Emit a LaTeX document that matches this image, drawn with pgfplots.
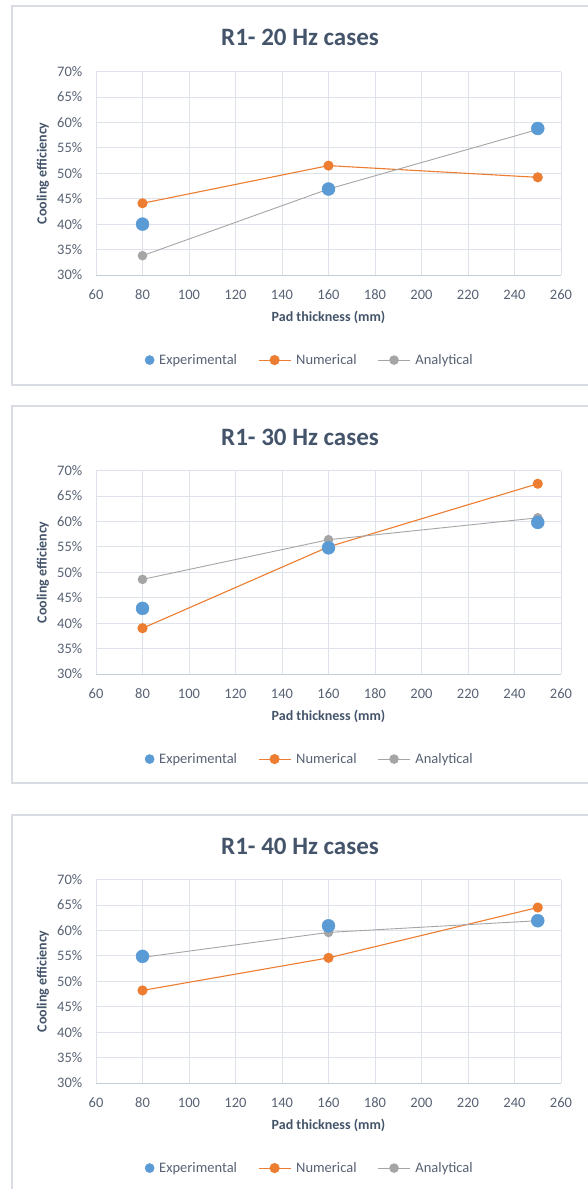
\documentclass[border=0pt]{standalone}
\usepackage{pgfplots}
\pgfplotsset{compat=1.18}
\usepackage{pgfplotstable}
\usepackage{fontspec}
\setmainfont{Carlito}
\definecolor{cblue}{HTML}{5B9BD5}
\definecolor{corange}{HTML}{ED7D31}
\definecolor{cgray}{HTML}{A5A5A5}
\definecolor{ctitle}{HTML}{44546A}
\definecolor{ctick}{HTML}{586274}
\definecolor{cgrid}{HTML}{DEE3EB}
\definecolor{caxis}{HTML}{C5CEDB}
\definecolor{cbox}{HTML}{D9DDE3}

\pgfplotstableread{
x exp num ana
80 40.0 44.1 33.8
160 46.9 51.5 46.9
250 58.8 49.2 58.6
}\tA
\pgfplotstableread{
x exp num ana
80 42.9 39.0 48.6
160 54.8 55.0 56.4
250 59.8 67.4 60.7
}\tB
\pgfplotstableread{
x exp num ana
80 54.9 48.2 54.7
160 60.9 54.6 59.6
250 61.9 64.5 61.9
}\tC

\pgfplotsset{
  mylegimg/.style={legend image code/.code={\draw[mark repeat=2,mark phase=2,##1] plot coordinates {(0pt,0pt) (16pt,0pt) (32pt,0pt)};}},
  panel/.style={
    scale only axis, width=465pt, height=203.5pt,
    anchor=south west,
    xmin=60, xmax=260, ymin=30, ymax=70,
    xtick={60,80,...,260}, ytick={30,35,...,70},
    /pgf/number format/assume math mode=true,
    yticklabel={\pgfmathprintnumber{\tick}\%},
    major tick length=0pt,
    grid=major,
    major grid style={cgrid, line width=0.8pt},
    axis x line*=bottom, axis y line*=left,
    x axis line style={-, caxis, line width=1pt},
    y axis line style={-, cgrid, line width=0.8pt},
    tick label style={font=\fontsize{14.5}{16}\selectfont, text=ctick, inner sep=0pt},
    xticklabel style={anchor=center, yshift=-20pt},
    yticklabel style={anchor=east, xshift=-13.5pt},
    xlabel={Pad thickness (mm)},
    ylabel={Cooling efficiency},
    every axis x label/.style={at={(axis description cs:0.5,-0.209)}, anchor=center, font=\bfseries\fontsize{14}{16}\selectfont, text=ctitle},
    every axis y label/.style={at={(axis description cs:-0.114,0.5)}, rotate=90, anchor=center, font=\bfseries\fontsize{14}{16}\selectfont, text=ctitle},
    legend columns=3,
    legend style={draw=none, fill=none, at={(axis description cs:0.46,-0.418)}, anchor=center,
      font=\fontsize{14.5}{16}\selectfont, text=ctick,
      /tikz/every even column/.append style={column sep=19pt},
      /tikz/every odd column/.append style={column sep=3pt}},
    legend entries={Experimental,Numerical,Analytical},
    clip=false,
  },
  expst/.style={only marks, mark=*, mark size=6.5pt, color=cblue, mark options={draw=cblue, fill=cblue}},
  numst/.style={mark=*, mark size=4.5pt, color=corange, line width=1.1pt, mark options={fill=corange, draw=corange}},
  anast/.style={mark=*, mark size=4.3pt, color=cgray, line width=0.9pt, mark options={fill=cgray, draw=cgray}},
}

\newcommand{\panel}[3]{%
  \begin{axis}[panel, at={(96pt,#2)}]
    \addlegendimage{expst, mylegimg, mark size=4.6pt}
    \addplot[numst, mylegimg] table[x=x,y=num] {#1};
    \addplot[anast, mylegimg] table[x=x,y=ana] {#1};
    \addplot[expst, forget plot] table[x=x,y=exp] {#1};
  \end{axis}%
  \node[font=\bfseries\fontsize{25}{28}\selectfont, text=ctitle] at (300pt,#3) {R1- #1title};%
}

\begin{document}
\begin{tikzpicture}
\useasboundingbox (0pt,0pt) rectangle (588pt,-1189pt);
\fill[white] (0pt,0pt) rectangle (588pt,-1189pt);
\draw[cbox, line width=1.2pt] (12pt,-6pt) rectangle (600pt,-385pt);
\draw[cbox, line width=1.2pt] (12pt,-406pt) rectangle (600pt,-783pt);
\draw[cbox, line width=1.2pt] (12pt,-815pt) rectangle (600pt,-1200pt);

\begin{axis}[panel, at={(96pt,-275pt)}]
  \addlegendimage{expst, mylegimg, mark size=4.6pt}
  \addplot[numst, mylegimg] table[x=x,y=num] {\tA};
  \addplot[anast, mylegimg] table[x=x,y=ana] {\tA};
  \addplot[expst, forget plot] table[x=x,y=exp] {\tA};
\end{axis}
\node[font=\bfseries\fontsize{25}{28}\selectfont, text=ctitle] at (300pt,-37pt) {R1- 20 Hz cases};

\begin{axis}[panel, at={(96pt,-674pt)}]
  \addlegendimage{expst, mylegimg, mark size=4.6pt}
  \addplot[numst, mylegimg] table[x=x,y=num] {\tB};
  \addplot[anast, mylegimg] table[x=x,y=ana] {\tB};
  \addplot[expst, forget plot] table[x=x,y=exp] {\tB};
\end{axis}
\node[font=\bfseries\fontsize{25}{28}\selectfont, text=ctitle] at (300pt,-437pt) {R1- 30 Hz cases};

\begin{axis}[panel, at={(96pt,-1083pt)}]
  \addlegendimage{expst, mylegimg, mark size=4.6pt}
  \addplot[numst, mylegimg] table[x=x,y=num] {\tC};
  \addplot[anast, mylegimg] table[x=x,y=ana] {\tC};
  \addplot[expst, forget plot] table[x=x,y=exp] {\tC};
\end{axis}
\node[font=\bfseries\fontsize{25}{28}\selectfont, text=ctitle] at (300pt,-846pt) {R1- 40 Hz cases};
\end{tikzpicture}
\end{document}
